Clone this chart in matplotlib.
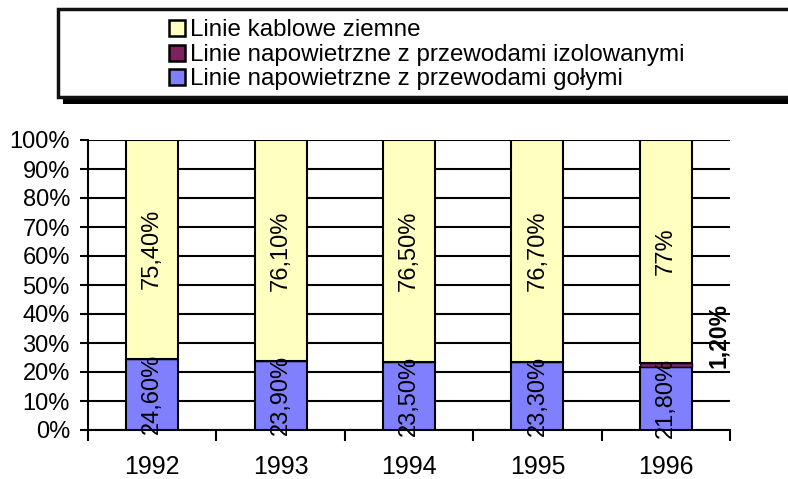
import matplotlib.pyplot as plt
import numpy as np
from matplotlib.patches import Rectangle
from matplotlib.ticker import FixedLocator, NullFormatter, PercentFormatter

plt.rcParams['font.family'] = ['Liberation Sans', 'DejaVu Sans']

years = ['1992', '1993', '1994', '1995', '1996']
gole = [24.6, 23.9, 23.5, 23.3, 21.8]
izolowane = [0, 0, 0, 0, 1.2]
kablowe = [75.4, 76.1, 76.5, 76.7, 77.0]

gole_lbl = ['24,60%', '23,90%', '23,50%', '23,30%', '21,80%']
kablowe_lbl = ['75,40%', '76,10%', '76,50%', '76,70%', '77%']
izol_lbl = '1,20%'

names = ['Linie kablowe ziemne',
         'Linie napowietrzne z przewodami izolowanymi',
         'Linie napowietrzne z przewodami gołymi']

c_gole = '#8080ff'
c_izol = '#80205f'
c_kabl = '#ffffc0'

W, H = 788, 479
fig = plt.figure(figsize=(W / 100, H / 100), dpi=100)
ax = fig.add_axes([88 / W, 49 / H, 642 / W, 290 / H])

x = np.arange(len(years))
w = 0.405
gole = np.array(gole)
izolowane = np.array(izolowane)
kablowe = np.array(kablowe)

ax.bar(x, gole, w, color=c_gole, edgecolor='black', linewidth=1.5, zorder=3)
ax.bar(x, izolowane, w, bottom=gole, color=c_izol, edgecolor='black', linewidth=1.0, zorder=3)
ax.bar(x, kablowe, w, bottom=gole + izolowane, color=c_kabl, edgecolor='black',
       linewidth=1.5, zorder=3)

# value labels, rotated inside the segments
for i in range(len(years)):
    ax.text(x[i], gole[i] / 2, gole_lbl[i], rotation=90, ha='center', va='center',
            fontsize=17, zorder=4)
    ax.text(x[i], gole[i] + izolowane[i] + kablowe[i] / 2, kablowe_lbl[i], rotation=90,
            ha='center', va='center', fontsize=17, zorder=4)
ax.text(x[4] + 0.41, 32.5, izol_lbl, rotation=90, ha='center', va='center',
        fontsize=16.5, fontweight='bold', zorder=4)

ax.set_xlim(-0.5, len(years) - 0.5)
ax.set_ylim(0, 100)
ax.yaxis.set_major_locator(FixedLocator(np.arange(0, 101, 10)))
ax.yaxis.set_major_formatter(PercentFormatter(decimals=0))
ax.yaxis.grid(True, color='black', linewidth=1.5, zorder=0)
ax.set_axisbelow(True)

ax.xaxis.set_major_locator(FixedLocator(np.arange(-0.5, len(years), 1.0)))
ax.xaxis.set_major_formatter(NullFormatter())
ax.xaxis.set_minor_locator(FixedLocator(x))
ax.set_xticklabels(years, minor=True)
ax.tick_params(axis='x', which='major', length=8, width=1.5, direction='out')
ax.tick_params(axis='x', which='minor', length=0, pad=18, labelsize=18)
ax.tick_params(axis='y', length=6, width=1.5, direction='out', labelsize=17, pad=7)

for s in ['top', 'right']:
    ax.spines[s].set_visible(False)
for s in ['left', 'bottom']:
    ax.spines[s].set_linewidth(1.5)

# legend box with a shadow, running off the right edge
fig.patches.append(Rectangle((63 / W, 375 / H), 0.95, 95 / H, transform=fig.transFigure,
                             facecolor='black', edgecolor='none', zorder=1))
fig.patches.append(Rectangle((58 / W, 382 / H), 0.95, 88 / H, transform=fig.transFigure,
                             facecolor='white', edgecolor='#111111', linewidth=2.5, zorder=2))

# legend entries, top to bottom
rows_y = [28, 53, 77]
for name, col, ry in zip(names, [c_kabl, c_izol, c_gole], rows_y):
    fig.patches.append(Rectangle((169 / W, (H - ry - 8) / H), 16 / W, 16 / H,
                                 transform=fig.transFigure, facecolor=col,
                                 edgecolor='black', linewidth=1.8, zorder=3))
    fig.text(190 / W, (H - ry) / H, name, fontsize=17.4, ha='left', va='center_baseline',
             zorder=3)

fig.savefig('out.png', dpi=100)
